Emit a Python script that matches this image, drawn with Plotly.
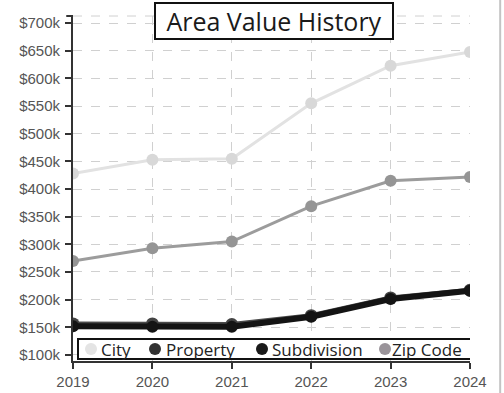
import plotly.graph_objects as go

# Yearly area values (USD)
years = [2019, 2020, 2021, 2022, 2023, 2024]
city = [428000, 453000, 455000, 555000, 623000, 648000]
property_vals = [156000, 156000, 155000, 171000, 203000, 217000]
subdivision = [152000, 151000, 151000, 169000, 201000, 216000]
zip_code = [270000, 293000, 305000, 369000, 415000, 422000]

series_names = ["City", "Property", "Subdivision", "Zip Code"]
series_values = [city, property_vals, subdivision, zip_code]
line_colors = ["#e2e2e2", "#4a4a4a", "#141414", "#9c9c9c"]
marker_colors = ["#d8d8d8", "#444444", "#141414", "#959595"]
legend_colors = ["#e4e4e4", "#333333", "#1a1a1a", "#9a949a"]
line_widths = [3, 5, 6, 3]
marker_sizes = [12, 13, 12, 12]

fig = go.Figure()
for name, vals, lc, mc, lw, ms in zip(series_names, series_values, line_colors,
                                      marker_colors, line_widths, marker_sizes):
    fig.add_trace(go.Scatter(
        x=years, y=vals, mode="lines+markers", name=name, showlegend=False,
        line=dict(color=lc, width=lw),
        marker=dict(color=mc, size=ms),
    ))

grid_col = "#d0d0d0"
axis_col = "#333333"
tick_font = dict(family="Liberation Sans, Arial, sans-serif", size=15, color="#555555")
legend_font = dict(family="Open Sans, sans-serif", size=17, color="#222222")

# Key drawn as a framed strip along the bottom of the plot area.
# Offsets are in pixels from the first year / the bottom of the plot.
key_dot_offsets = [18, 82, 189, 312]
key_text_offsets = [27, 92, 198, 318]
key_mid = 12

shapes = [
    # dashed frame along the top of the plot area
    dict(type="line", xref="paper", yref="paper", x0=0, x1=1, y0=1, y1=1,
         line=dict(color=grid_col, width=1, dash="dash"), layer="below"),
    # outer tick capping the top of the value axis
    dict(type="line", xref="paper", yref="paper", x0=-0.017, x1=0, y0=1, y1=1,
         line=dict(color=axis_col, width=2)),
    # thin page edge on the right
    dict(type="line", xref="paper", yref="paper", x0=1.076, x1=1.076,
         y0=-0.1, y1=1.05, line=dict(color="#c4c4c4", width=2)),
    # key frame
    dict(type="rect", xref="x", xsizemode="pixel", xanchor=years[0], x0=5, x1=400,
         yref="paper", ysizemode="pixel", yanchor=0, y0=2, y1=22,
         fillcolor="white", line=dict(color="#111111", width=2)),
]
annotations = [dict(
    text="Area Value History", xref="paper", yref="paper",
    x=0.506, y=1.0, xanchor="center", yanchor="middle", yshift=-5,
    width=232, height=30, align="center", valign="middle",
    showarrow=False, bgcolor="white",
    bordercolor="#111111", borderwidth=2, borderpad=2,
    font=dict(family="Open Sans, sans-serif", size=25, color="#1a1a1a"),
)]
for name, col, dx, tx in zip(series_names, legend_colors, key_dot_offsets, key_text_offsets):
    shapes.append(dict(
        type="circle", xref="x", xsizemode="pixel", xanchor=years[0],
        x0=dx - 6, x1=dx + 6, yref="paper", ysizemode="pixel", yanchor=0,
        y0=key_mid - 6, y1=key_mid + 6, fillcolor=col, line=dict(width=0),
    ))
    annotations.append(dict(
        text=name, xref="paper", yref="paper", x=tx / 397, y=key_mid / 345,
        xanchor="left", yanchor="middle", showarrow=False, borderpad=0,
        font=legend_font,
    ))

fig.update_layout(
    width=504, height=393,
    margin=dict(l=73, r=34, t=16, b=32, autoexpand=False),
    paper_bgcolor="white", plot_bgcolor="white",
    showlegend=False,
    xaxis=dict(
        range=[2019, 2024], tickvals=years, ticktext=[str(y) for y in years],
        showgrid=True, gridcolor=grid_col, griddash="dash", gridwidth=1,
        showline=True, linecolor=axis_col, linewidth=2,
        ticks="outside", ticklen=6, tickwidth=2, tickcolor=axis_col,
        ticklabelstandoff=0, automargin=False,
        tickfont=tick_font, zeroline=False, fixedrange=True,
    ),
    yaxis=dict(
        range=[89000, 713000], dtick=50000, tick0=0, tickformat="$~s",
        showgrid=True, gridcolor=grid_col, griddash="dash", gridwidth=1,
        showline=True, linecolor=axis_col, linewidth=2,
        ticks="outside", ticklen=6, tickwidth=2, tickcolor=axis_col,
        ticklabelstandoff=2, automargin=False,
        tickfont=tick_font, zeroline=False, fixedrange=True,
    ),
    shapes=shapes,
    annotations=annotations,
)

fig.write_html("out.html")
